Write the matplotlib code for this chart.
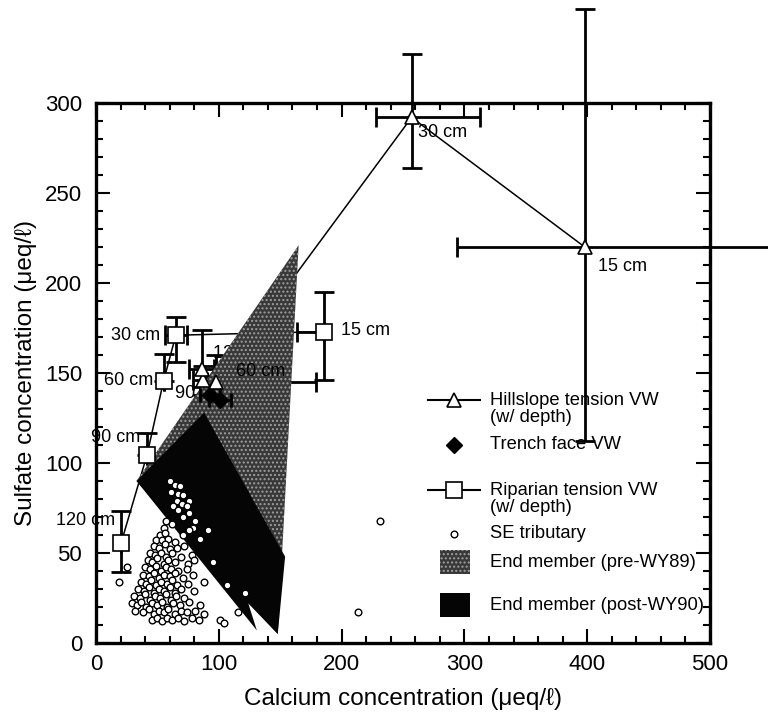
import matplotlib.pyplot as plt
from matplotlib.lines import Line2D
from matplotlib.patches import Polygon, Rectangle
from matplotlib.ticker import MultipleLocator

plt.rcParams['font.family'] = ['Liberation Sans', 'DejaVu Sans']

# hillslope tension lysimeters (15 -> 120 cm)
hill_depth = ['15 cm', '30 cm', '60 cm', '90 cm', '120 cm']
hill_ca = [398, 257, 98, 87, 86]
hill_so4 = [220, 292, 145, 146, 152]
hill_ca_lo = [104, 29, 8, 8, 10]
hill_ca_hi = [150, 56, 81, 8, 10]
hill_so4_lo = [108, 28, 10, 8, 10]
hill_so4_hi = [132, 35, 15, 8, 22]

# riparian tension lysimeters
rip_depth = ['15 cm', '30 cm', '60 cm', '90 cm', '120 cm']
rip_ca = [186, 65, 55, 41.5, 20.4]
rip_so4 = [173, 171, 145.5, 104.4, 55.5]
rip_ca_lo = [22, 9, 0, 0, 0]
rip_ca_hi = [0, 9, 0, 0, 0]
rip_so4_lo = [27, 15, 0, 0, 16]
rip_so4_hi = [22, 10, 15, 12, 18]

# trench face
trench_ca = [93, 101]
trench_so4 = [138, 135]
trench_ca_err = [8, 9]

# SE tributary samples
se_pts = [
    (60, 90), (64, 88), (68, 87), (61, 84), (67, 83), (71, 82), (76, 79), (66, 79),
    (70, 77), (74, 76), (63, 76), (67, 74), (76, 72), (71, 70), (81, 68), (57, 68),
    (62, 66), (79, 64), (55, 64), (85, 58), (91, 63), (76, 63), (71, 60),
    (52, 60), (56, 61), (49, 57), (54, 57), (59, 58), (64, 56),
    (47, 54), (51, 53), (56, 55), (60, 52), (66, 53), (72, 54),
    (44, 50), (48, 49), (53, 50), (57, 48), (62, 50), (69, 48), (78, 49),
    (42, 46), (46, 45), (50, 47), (55, 44), (59, 46), (64, 45), (75, 44), (80, 46),
    (40, 42), (44, 41), (49, 43), (53, 40), (57, 42), (61, 41), (67, 40), (74, 41),
    (38, 38), (43, 37), (47, 39), (51, 36), (55, 38), (60, 37), (64, 39), (71, 36), (79, 38),
    (37, 34), (41, 33), (45, 35), (49, 32), (53, 34), (58, 33), (62, 35), (66, 32), (75, 33), (88, 34),
    (34, 30), (39, 29), (43, 31), (47, 28), (51, 30), (55, 29), (60, 31), (64, 28), (69, 30), (80, 29),
    (31, 26), (36, 25), (40, 27), (44, 24), (48, 26), (52, 25), (57, 27), (61, 24), (65, 26), (72, 25),
    (29, 22), (33, 21), (37, 23), (41, 20), (46, 22), (50, 21), (54, 23), (58, 20), (63, 22), (68, 21),
    (76, 23), (85, 21),
    (32, 18), (38, 17), (43, 19), (47, 16), (51, 18), (55, 17), (59, 19), (64, 16), (69, 18), (74, 17),
    (81, 18), (88, 16),
    (46, 13), (50, 14), (54, 12), (58, 14), (62, 13), (67, 14), (72, 12), (78, 14), (84, 13),
    (19, 34), (25, 42), (231, 68), (213, 17), (101, 13), (104, 11), (107, 32), (121, 28), (116, 17),
    (95, 45),
]
se_ca = [p[0] for p in se_pts]
se_so4 = [p[1] for p in se_pts]

# end member envelopes
pre_ca = [165, 33, 148]
pre_so4 = [221, 90, 5]
post_ca = [33, 88, 154, 148, 124, 131]
post_so4 = [90, 128, 48, 5, 22, 7]

fig = plt.figure(figsize=(7.68, 7.17), dpi=100)
ax = fig.add_axes([0.125, 0.1032, 0.7995, 0.7531])

ax.add_patch(Polygon(list(zip(pre_ca, pre_so4)), closed=True, facecolor='0.22',
                     edgecolor='0.62', hatch='....', lw=0, zorder=3))
ax.add_patch(Polygon(list(zip(post_ca, post_so4)), closed=True, facecolor='0.02',
                     edgecolor='none', lw=0, zorder=3))

ax.plot(se_ca, se_so4, 'o', ms=4.8, mfc='white', mec='black', mew=1.0, zorder=4, ls='none')

ax.plot(hill_ca, hill_so4, '-', color='black', lw=1.1, zorder=2, clip_on=False)
ax.errorbar(hill_ca, hill_so4, xerr=[hill_ca_lo, hill_ca_hi], yerr=[hill_so4_lo, hill_so4_hi],
            fmt='none', ecolor='black', elinewidth=2.0, capsize=7, capthick=2.0, zorder=2,
            clip_on=False)
ax.plot(hill_ca, hill_so4, '^', ms=10, mfc='white', mec='black', mew=1.2, zorder=6, clip_on=False)

ax.plot(rip_ca, rip_so4, '-', color='black', lw=1.1, zorder=2)
ax.errorbar(rip_ca, rip_so4, xerr=[rip_ca_lo, rip_ca_hi], yerr=[rip_so4_lo, rip_so4_hi],
            fmt='none', ecolor='black', elinewidth=2.0, capsize=7, capthick=2.0, zorder=2)
ax.plot(rip_ca, rip_so4, 's', ms=12, mfc='white', mec='black', mew=1.2, zorder=6)

ax.errorbar(trench_ca, trench_so4, xerr=trench_ca_err, fmt='D', ms=8, color='black',
            elinewidth=2.0, capsize=5, capthick=2.0, zorder=5)

# depth labels
fs_lab = 13
hill_off = [(13, -19, 'left', 2), (6, -15, 'left', 2), (20, 11, 'left', 7),
            (-28, -13, 'left', 2), (11, 16, 'left', 2)]
for d, x, y, (dx, dy, ha, z) in zip(hill_depth, hill_ca, hill_so4, hill_off):
    ax.annotate(d, (x, y), xytext=(dx, dy), textcoords='offset pixels', ha=ha, va='center',
                fontsize=fs_lab, zorder=z)
rip_off = [(17, 1, 'left'), (-16, 0, 'right'), (-10, 1, 'right'), (-7, 18, 'right'), (-6, 23, 'right')]
for d, x, y, (dx, dy, ha) in zip(rip_depth, rip_ca, rip_so4, rip_off):
    ax.annotate(d, (x, y), xytext=(dx, dy), textcoords='offset pixels', ha=ha, va='center',
                fontsize=fs_lab, zorder=7)

# legend drawn by hand
tr = ax.transAxes
fs_leg = 13.2
ax.add_line(Line2D([0.541, 0.625], [0.45, 0.45], color='black', lw=1.5, transform=tr))
ax.plot([0.583], [0.45], '^', ms=10, mfc='white', mec='black', mew=1.2, transform=tr)
ax.text(0.642, 0.433, 'Hillslope tension VW\n(w/ depth)', transform=tr, fontsize=fs_leg,
        va='center', linespacing=1.0)
ax.plot([0.583], [0.367], 'D', ms=8, color='black', transform=tr)
ax.text(0.642, 0.367, 'Trench face VW', transform=tr, fontsize=fs_leg, va='center')
ax.add_line(Line2D([0.541, 0.625], [0.283, 0.283], color='black', lw=1.5, transform=tr))
ax.plot([0.583], [0.283], 's', ms=12, mfc='white', mec='black', mew=1.2, transform=tr)
ax.text(0.642, 0.267, 'Riparian tension VW\n(w/ depth)', transform=tr, fontsize=fs_leg,
        va='center', linespacing=1.0)
ax.plot([0.583], [0.202], 'o', ms=4.8, mfc='white', mec='black', mew=1.0, transform=tr)
ax.text(0.642, 0.202, 'SE tributary', transform=tr, fontsize=fs_leg, va='center')
ax.add_patch(Rectangle((0.56, 0.128), 0.049, 0.044, transform=tr, facecolor='0.22',
                       edgecolor='0.62', hatch='....', lw=0))
ax.text(0.642, 0.15, 'End member (pre-WY89)', transform=tr, fontsize=fs_leg, va='center')
ax.add_patch(Rectangle((0.56, 0.048), 0.049, 0.045, transform=tr, facecolor='0.02', lw=0))
ax.text(0.642, 0.07, 'End member (post-WY90)', transform=tr, fontsize=fs_leg, va='center')

ax.set_xlim(0, 500)
ax.set_ylim(0, 300)
ax.xaxis.set_major_locator(MultipleLocator(100))
ax.xaxis.set_minor_locator(MultipleLocator(20))
ax.yaxis.set_major_locator(MultipleLocator(50))
ax.yaxis.set_minor_locator(MultipleLocator(10))
ax.tick_params(which='both', direction='in', top=True, right=True, width=1.5, labelsize=16)
ax.tick_params(which='major', length=10)
ax.tick_params(which='minor', length=5)
ax.tick_params(axis='x', pad=8)
ax.tick_params(axis='y', pad=10)
for s in ax.spines.values():
    s.set_linewidth(2.4)
ax.set_xlabel('Calcium concentration (\u03bceq/\u2113)', fontsize=17.5, labelpad=9)
ax.set_ylabel('Sulfate concentration (\u03bceq/\u2113)', fontsize=17.5, labelpad=6)

fig.savefig('out.png', dpi=100)
